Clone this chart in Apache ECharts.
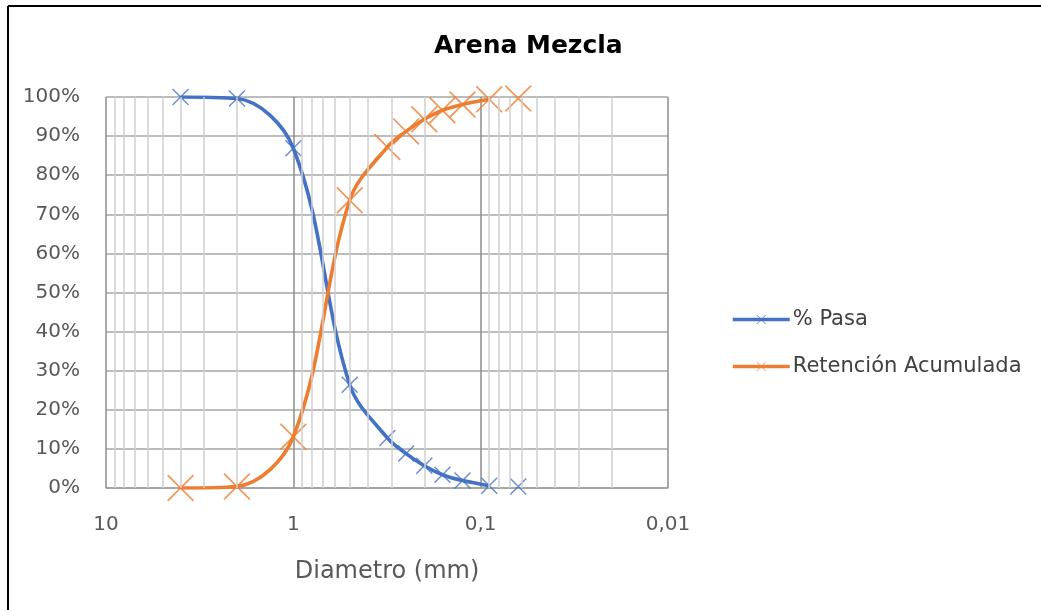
<!DOCTYPE html>
<html>
<head>
<meta charset="utf-8">
<script src="https://cdn.jsdelivr.net/npm/echarts@6/dist/echarts.min.js"></script>
<style>
  html, body { margin: 0; padding: 0; background: #ffffff; }
  #chart { width: 1041px; height: 610px; }
</style>
</head>
<body>
<div id="chart"></div>
<script>
// Granulometría: diámetro de tamiz (mm) y porcentajes
const diameters = [4, 2, 1, 0.5, 0.315, 0.25, 0.2, 0.16, 0.125, 0.09, 0.063];
const pasa      = [100, 99.6, 86.9, 26.4, 12.8, 8.8, 5.7, 3.4, 1.9, 0.6, 0.4];
const retenida  = [0, 0.4, 13.1, 73.6, 87.2, 91.2, 94.3, 96.6, 98.1, 99.4, 99.6];
// the curve is drawn through the first points only; the rest stand alone
const joinedCount = 10;

const seriesNames = ['% Pasa', 'Retención Acumulada'];
const xTickValues = [10, 1, 0.1, 0.01];
const yTickValues = [0, 10, 20, 30, 40, 50, 60, 70, 80, 90, 100];

// minor vertical lines of the log grid: 2..9 in every decade
const minorLines = [];
[1, 0.1, 0.01].forEach(function (d) {
  for (let k = 2; k <= 9; k++) minorLines.push(+(k * d).toPrecision(3));
});

function toPairs(values) {
  const out = [];
  diameters.forEach(function (d, i) {
    if (i === joinedCount) out.push(['-', '-']);
    out.push([d, values[i]]);
  });
  return out;
}

const blue = '#4472C4';
const orange = '#ED7D31';
const FONT = 'DejaVu Sans';

const crossSmall = 'path://M0,0.6 L0.6,0 L10,9.4 L9.4,10 Z M9.4,0 L10,0.6 L0.6,10 L0,9.4 Z';
const crossLarge = 'path://M0,0.45 L0.45,0 L10,9.55 L9.55,10 Z M9.55,0 L10,0.45 L0.45,10 L0,9.55 Z';

const chart = echarts.init(document.getElementById('chart'), null, { renderer: 'canvas' });

chart.setOption({
  animation: false,
  backgroundColor: '#ffffff',
  title: {
    text: 'Arena Mezcla',
    left: 429,
    top: 29,
    textStyle: { fontFamily: FONT, fontWeight: 'bold', fontSize: 25, color: '#000000' }
  },
  graphic: [
    { type: 'line', shape: { x1: 8, y1: 6, x2: 1041, y2: 6 }, style: { stroke: '#000', lineWidth: 2 } },
    { type: 'line', shape: { x1: 8, y1: 6, x2: 8, y2: 610 }, style: { stroke: '#000', lineWidth: 2 } }
  ],
  legend: {
    orient: 'vertical',
    left: 726,
    top: 304,
    data: seriesNames,
    itemWidth: 57,
    itemHeight: 12,
    itemGap: 26,
    lineStyle: { width: 3.5 },
    textStyle: { fontFamily: FONT, fontSize: 21, color: '#404040', padding: [0, 0, 0, -2] }
  },
  grid: { left: 106, right: 373, top: 97, bottom: 122 },
  xAxis: {
    type: 'log',
    logBase: 10,
    min: 0.01,
    max: 10,
    interval: 1,
    inverse: true,
    name: 'Diametro (mm)',
    nameLocation: 'middle',
    nameGap: 72,
    nameTextStyle: { fontFamily: FONT, fontSize: 24, color: '#595959' },
    axisLine: { show: true, lineStyle: { color: '#9e9e9e', width: 1.5 } },
    axisTick: { show: false },
    axisLabel: {
      margin: 27,
      fontFamily: FONT,
      fontSize: 20,
      color: '#595959',
      formatter: function (v) {
        const n = Number(Number(v).toPrecision(3));
        return xTickValues.indexOf(n) >= 0 ? String(n).replace('.', ',') : '';
      }
    },
    splitLine: { show: true, lineStyle: { color: '#8c8c8c', width: 1.5 } }
  },
  yAxis: {
    type: 'value',
    min: yTickValues[0],
    max: yTickValues[yTickValues.length - 1],
    interval: 10,
    axisLine: { show: false },
    axisTick: { show: false },
    axisLabel: {
      margin: 26,
      fontFamily: FONT,
      fontSize: 20,
      color: '#595959',
      formatter: '{value}%'
    },
    splitLine: { show: true, lineStyle: { color: '#a6a6a6', width: 1.5 } }
  },
  series: [
    {
      name: 'grid-minor',
      type: 'line',
      data: [],
      z: 1,
      silent: true,
      markLine: {
        silent: true,
        symbol: 'none',
        animation: false,
        label: { show: false },
        lineStyle: { type: 'solid', color: '#cfcfcf', width: 1.5 },
        data: minorLines.map(function (v) { return { xAxis: v }; })
      }
    },
    {
      name: seriesNames[0],
      type: 'line',
      z: 3,
      data: toPairs(pasa),
      smooth: 0.35,
      connectNulls: false,
      showAllSymbol: true,
      symbol: crossSmall,
      symbolSize: 17,
      itemStyle: { color: blue, opacity: 0.8 },
      lineStyle: { color: blue, width: 3.6 }
    },
    {
      name: seriesNames[1],
      type: 'line',
      z: 4,
      data: toPairs(retenida),
      smooth: 0.35,
      connectNulls: false,
      showAllSymbol: true,
      symbol: crossLarge,
      symbolSize: 27,
      itemStyle: { color: orange, opacity: 0.8 },
      lineStyle: { color: orange, width: 3.6 }
    }
  ]
});
</script>
</body>
</html>
